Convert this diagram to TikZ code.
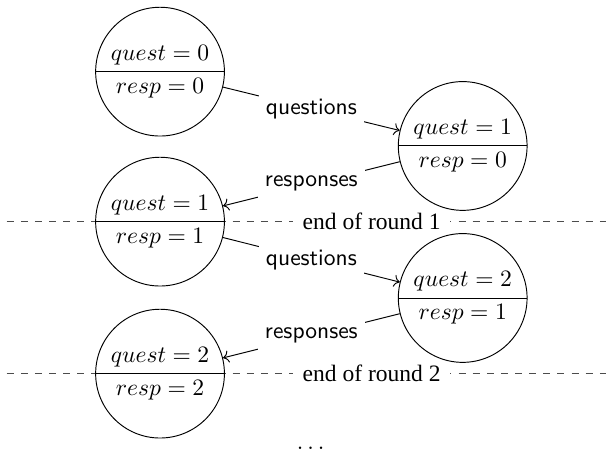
\documentclass[tikz,border=0pt]{standalone}
\usepackage{fontspec}
\usepackage{tikz}
\usetikzlibrary{arrows.meta,calc,positioning,shapes.multipart}
\newfontfamily\roundfont{Liberation Serif}

\begin{document}
\begin{tikzpicture}[
  font=\normalsize,
  rstate/.style={circle split,draw=black,fill=white,inner sep=2.7pt},
  msg/.style={font=\sffamily,fill=white,inner sep=3pt},
  flow/.style={->},
  roundline/.style={dashed,draw=black!70},
  roundlab/.style={font=\roundfont,fill=white,inner sep=4pt}
]
\useasboundingbox (0,0) rectangle (9.05,-6.79);
% round separators
\coordinate (A1) at (0.1,-3.31);
\coordinate (B1) at (9.05,-3.31);
\coordinate (A2) at (0.1,-5.58);
\coordinate (B2) at (9.05,-5.58);
\draw[roundline] (A1) -- (B1);
\draw[roundline] (A2) -- (B2);
% round labels
\node[roundlab] (e1) at (5.55,-3.31) {end of round 1};
\node[roundlab] (e2) at (5.55,-5.58) {end of round 2};
% states of the two parties
\node[rstate] (L1) at (2.39,-1.07) {$quest = 0$ \nodepart{lower} $resp = 0$};
\node[rstate] (R1) at (6.91,-2.18) {$quest = 1$ \nodepart{lower} $resp = 0$};
\node[rstate] (L2) at (2.39,-3.31) {$quest = 1$ \nodepart{lower} $resp = 1$};
\node[rstate] (R2) at (6.91,-4.45) {$quest = 2$ \nodepart{lower} $resp = 1$};
\node[rstate] (L3) at (2.39,-5.58) {$quest = 2$ \nodepart{lower} $resp = 2$};
% messages
\draw[flow] (L1) -- node[msg] (q1) {questions} (R1);
\draw[flow] (R1) -- node[msg] (r1) {responses} (L2);
\draw[flow] (L2) -- node[msg] (q2) {questions} (R2);
\draw[flow] (R2) -- node[msg] (r2) {responses} (L3);
\node[anchor=base] (dots) at (4.64,-6.72) {$\ldots$};
\end{tikzpicture}
\end{document}
